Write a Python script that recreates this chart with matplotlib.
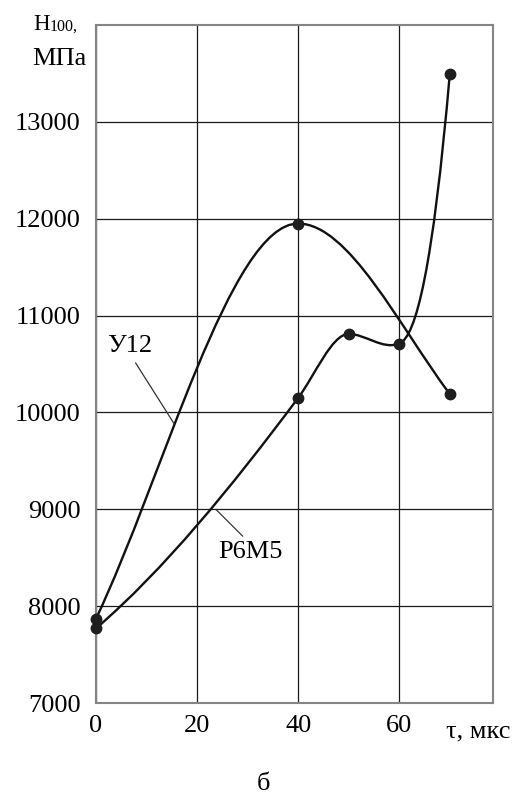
import matplotlib
matplotlib.use("Agg")
import matplotlib.pyplot as plt
from matplotlib.path import Path
from matplotlib.patches import PathPatch

plt.rcParams['font.family'] = ['Liberation Serif', 'DejaVu Serif']

# ---- data ----
u12_x = [0, 40, 70]
u12_y = [7870, 11950, 10190]
u12_slope = [110, 0, -70]          # tangent slopes of the drawn smooth curve

r6m5_x = [0, 40, 50, 60, 70]
r6m5_y = [7770, 10150, 10810, 10710, 13490]
r6m5_slope = [45, 70, 0, 20, 600]

x_ticks = [0, 20, 40, 60]
y_ticks = [7000, 8000, 9000, 10000, 11000, 12000, 13000]

FS = 19
DOT = '#1e1e1e'


def smooth_path(xs, ys, ms):
    verts = [(xs[0], ys[0])]
    codes = [Path.MOVETO]
    for i in range(len(xs) - 1):
        h = xs[i + 1] - xs[i]
        verts += [(xs[i] + h / 3, ys[i] + ms[i] * h / 3),
                  (xs[i + 1] - h / 3, ys[i + 1] - ms[i + 1] * h / 3),
                  (xs[i + 1], ys[i + 1])]
        codes += [Path.CURVE4] * 3
    return Path(verts, codes)


fig = plt.figure(figsize=(5.16, 7.96), dpi=100)
ax = fig.add_axes([96 / 516, 1 - 703 / 796, (492.7 - 96) / 516, (703 - 25) / 796])
ax.set_xlim(0, 78.5)
ax.set_ylim(7000, 14000)

ax.set_xticks(x_ticks)
ax.set_yticks(y_ticks)
ax.tick_params(length=0, labelsize=FS)
ax.tick_params(axis='x', pad=9)
ax.tick_params(axis='y', pad=11)
ax.grid(True, color='#1a1a1a', linewidth=0.9)
ax.set_axisbelow(True)
for s in ax.spines.values():
    s.set_color('#858585')
    s.set_linewidth(1.5)

for xs, ys, ms in [(u12_x, u12_y, u12_slope), (r6m5_x, r6m5_y, r6m5_slope)]:
    ax.add_patch(PathPatch(smooth_path(xs, ys, ms), facecolor='none',
                           edgecolor='#111111', linewidth=1.7, zorder=3))
    ax.plot(xs, ys, linestyle='none', marker='o', markersize=7.5,
            color=DOT, zorder=4, clip_on=False)

ax.annotate('У12', xy=(15.5, 9880), xytext=(6.6, 10690),
            fontsize=FS, ha='center', va='center',
            arrowprops=dict(arrowstyle='-', color='#333333', linewidth=0.9,
                            relpos=(0.55, 0.0), shrinkA=3, shrinkB=0))
ax.annotate('Р6М5', xy=(23.7, 9000), xytext=(30.6, 8560),
            fontsize=FS, ha='center', va='center',
            arrowprops=dict(arrowstyle='-', color='#333333', linewidth=0.9,
                            relpos=(0.45, 1.0), shrinkA=2, shrinkB=0))

fig.text(33 / 516, 1 - 30 / 796, 'H', fontsize=16.5, ha='left', va='baseline')
fig.text(50 / 516, 1 - 31 / 796, '100,', fontsize=11.5, ha='left', va='baseline')
fig.text(32 / 516, 1 - 65 / 796, 'МПа', fontsize=FS, ha='left', va='baseline')
fig.text(478 / 516, 1 - 731 / 796, 'τ, мкс', fontsize=FS, ha='center', va='center')
fig.text(263 / 516, 1 - 784 / 796, 'б', fontsize=FS, ha='center', va='center')

fig.savefig('out.png', dpi=100)
